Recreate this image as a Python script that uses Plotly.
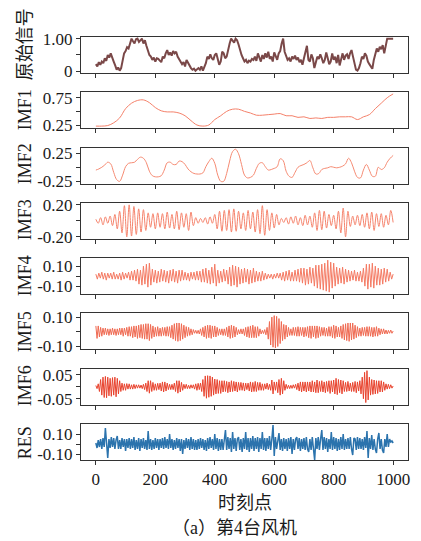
import plotly.graph_objects as go
from plotly.subplots import make_subplots

# ---------------- data ----------------
x_ticks = [0, 200, 400, 600, 800, 1000]
x_tick_labels = ["0", "200", "400", "600", "800", "1000"]

row_names = ["原始信号", "IMF1", "IMF2", "IMF3", "IMF4", "IMF5", "IMF6", "RES"]

# sampling step (time points) for each stored series
steps = [5, 20, 10, 8, 5, 4, 4, 4]

orig = [
    0.22, 0.15, 0.28, 0.20, 0.30, 0.25, 0.40, 0.32, 0.50, 0.42,
    0.55, 0.45, 0.30, 0.18, 0.05, 0.12, 0.02, 0.10, 0.40, 0.55,
    0.62, 0.74, 0.70, 0.88, 1.00, 0.92, 0.85, 0.98, 1.00, 0.90,
    0.97, 1.00, 0.85, 0.95, 0.78, 0.62, 0.50, 0.45, 0.35, 0.42,
    0.30, 0.40, 0.38, 0.33, 0.28, 0.45, 0.40, 0.55, 0.65, 0.50,
    0.58, 0.48, 0.62, 0.55, 0.60, 0.45, 0.38, 0.30, 0.22, 0.28,
    0.15, 0.35, 0.25, 0.20, 0.10, 0.05, 0.08, 0.02, 0.06, 0.10,
    0.05, 0.15, 0.02, 0.12, 0.25, 0.45, 0.38, 0.52, 0.40, 0.35,
    0.50, 0.55, 0.40, 0.20, 0.30, 0.60, 0.55, 0.40, 0.45, 0.70,
    0.85, 1.00, 0.92, 0.88, 1.00, 0.95, 0.82, 0.65, 0.50, 0.40,
    0.30, 0.35, 0.25, 0.33, 0.30, 0.38, 0.35, 0.45, 0.32, 0.55,
    0.40, 0.30, 0.50, 0.38, 0.55, 0.42, 0.60, 0.38, 0.45, 0.30,
    0.58, 0.45, 0.35, 0.55, 0.62, 0.85, 1.00, 0.60, 0.45, 0.35,
    0.40, 0.30, 0.45, 0.38, 0.48, 0.35, 0.42, 0.28, 0.35, 0.20,
    0.40, 0.65, 0.78, 0.35, 0.30, 0.52, 0.40, 0.10, 0.25, 0.45,
    0.38, 0.52, 0.40, 0.25, 0.35, 0.58, 0.40, 0.22, 0.30, 0.55,
    0.35, 0.45, 0.25, 0.50, 0.18, 0.40, 0.55, 0.35, 0.48, 0.52,
    0.38, 0.55, 0.65, 0.45, 0.20, 0.05, 0.02, 0.10, 0.25, 0.45,
    0.38, 0.55, 0.48, 0.30, 0.22, 0.15, 0.08, 0.35, 0.55, 0.70,
    0.60, 0.75, 0.68, 0.80, 0.55, 0.85, 1.00, 1.00, 1.00, 1.00,
    1.00,
]

imf1 = [
    0.23, 0.23, 0.24, 0.29, 0.38, 0.55, 0.65, 0.70, 0.71, 0.66,
    0.57, 0.51, 0.49, 0.49, 0.47, 0.42, 0.33, 0.25, 0.23, 0.25,
    0.35, 0.42, 0.50, 0.54, 0.54, 0.50, 0.47, 0.43, 0.43, 0.44,
    0.45, 0.46, 0.42, 0.42, 0.39, 0.40, 0.37, 0.38, 0.37, 0.39,
    0.39, 0.40, 0.40, 0.40, 0.35, 0.40, 0.44, 0.55, 0.65, 0.75,
    0.82,
]

imf2 = [
    -0.05, -0.03, 0.00, 0.04, 0.09, 0.06, -0.09, -0.22, -0.25, -0.14,
    0.01, 0.07, 0.08, 0.09, 0.14, 0.18, 0.16, 0.08, -0.07, -0.15,
    -0.17, -0.17, -0.15, -0.05, 0.08, 0.09, 0.05, 0.05, 0.11, 0.10,
    0.05, -0.03, -0.08, -0.11, -0.12, -0.12, -0.10, 0.01, 0.10, 0.16,
    0.07, -0.14, -0.25, -0.25, -0.11, 0.11, 0.28, 0.32, 0.24, 0.05,
    -0.14, -0.19, -0.18, -0.14, -0.02, 0.07, 0.08, 0.01, -0.05, -0.04,
    -0.02, 0.01, 0.15, 0.12, -0.07, -0.16, -0.18, -0.09, 0.00, 0.03,
    0.05, 0.08, 0.12, -0.01, -0.12, -0.11, -0.04, -0.02, -0.01, 0.01,
    0.00, -0.01, 0.00, 0.02, 0.06, 0.16, 0.08, -0.07, -0.18, -0.19,
    -0.05, 0.05, -0.05, -0.16, -0.16, 0.00, -0.04, -0.01, 0.09, 0.16,
    0.21,
]

imf3 = [
    0.02, -0.03, 0.04, -0.05, 0.05, -0.03, 0.06, -0.06, 0.08, -0.10,
    0.12, -0.15, 0.19, -0.20, 0.20, -0.19, 0.18, -0.17, 0.15, -0.14,
    0.14, -0.12, 0.10, -0.08, 0.09, -0.10, 0.10, -0.08, 0.09, -0.10,
    0.11, -0.09, 0.08, -0.10, 0.12, -0.11, 0.10, -0.08, 0.09, -0.12,
    0.11, -0.06, 0.04, -0.03, 0.03, -0.02, 0.04, -0.04, 0.05, -0.03,
    0.08, -0.10, 0.12, -0.13, 0.13, -0.12, 0.14, -0.14, 0.15, -0.13,
    0.12, -0.10, 0.10, -0.12, 0.13, -0.10, 0.11, -0.14, 0.14, -0.16,
    0.19, -0.18, 0.14, -0.12, 0.10, -0.09, 0.08, -0.05, 0.03, -0.02,
    0.04, -0.04, 0.05, -0.03, 0.06, -0.05, 0.04, -0.06, 0.07, -0.05,
    0.06, -0.08, 0.10, -0.12, 0.13, -0.11, 0.12, -0.09, 0.08, -0.06,
    0.07, -0.10, 0.12, -0.15, 0.16, -0.20, 0.12, -0.07, 0.06, -0.05,
    0.07, -0.06, 0.08, -0.08, 0.10, -0.10, 0.11, -0.12, 0.09, -0.07,
    0.09, -0.08, 0.07, -0.05, 0.13, -0.02,
]

imf4 = [
    0.02, -0.03, 0.03, -0.02, 0.04, -0.03, 0.03, -0.04, 0.03, -0.02,
    0.03, -0.03, 0.04, -0.03, 0.02, -0.03, 0.03, -0.04, 0.04, -0.03,
    0.03, -0.02, 0.04, -0.04, 0.05, -0.04,
    0.06, -0.05, 0.07, -0.08, 0.06, -0.09, 0.10, -0.08, 0.12, -0.11, 0.13, -0.09,
    0.07, -0.06, 0.06, -0.07, 0.05, -0.06, 0.07, -0.05, 0.06, -0.06, 0.05, -0.07, 0.06,
    -0.05, 0.07, -0.06, 0.05, -0.07, 0.06, -0.05, 0.06, -0.04,
    0.04, -0.04, 0.03, -0.05, 0.04, -0.03, 0.04, -0.04, 0.05, -0.04, 0.05,
    -0.06, 0.07, -0.06, 0.08, -0.07, 0.06, -0.08, 0.09, -0.07, 0.12, -0.10,
    0.06, -0.07, 0.05, -0.06, 0.07, -0.05, 0.06, -0.08, 0.09,
    -0.10, 0.11, -0.09, 0.10, -0.11, 0.09, -0.08,
    0.07, -0.07, 0.08, -0.06, 0.07, -0.08, 0.06, -0.07, 0.08, -0.06, 0.05,
    -0.05, 0.04, -0.05, 0.05, -0.04, 0.03, -0.03,
    0.02, -0.02, 0.02, -0.03, 0.02, -0.02, 0.03, -0.02, 0.03, -0.04, 0.04,
    -0.05, 0.05, -0.04, 0.06, -0.05, 0.04, -0.05, 0.06, -0.05, 0.07, -0.06,
    0.08, -0.07, 0.08, -0.09, 0.07, -0.08, 0.09, -0.07, 0.08, -0.10, 0.11,
    -0.12, 0.11, -0.13, 0.12, -0.14, 0.13, -0.15, 0.16, -0.16, 0.14, -0.12, 0.13, -0.10,
    0.09, -0.08, 0.08, -0.07, 0.09, -0.08, 0.07, -0.06, 0.06,
    -0.05, 0.05, -0.04, 0.06, -0.05, 0.04, -0.05, 0.05, -0.06, 0.08, -0.10,
    0.12, -0.13, 0.12, -0.11, 0.13, -0.12, 0.10,
    -0.09, 0.08, -0.09, 0.07, -0.08, 0.08, -0.06, 0.07, -0.05,
    0.04, -0.03, 0.02,
]

imf5 = [
    0.04, -0.045, 0.04, -0.035, 0.03, -0.03, 0.025, -0.02, 0.025, -0.02,
    0.02, -0.025, 0.02, -0.02, 0.025, -0.02, 0.02, -0.025, 0.02, -0.02,
    0.025, -0.02, 0.025, -0.03, 0.025, -0.02, 0.03, -0.03, 0.035, -0.03,
    0.035, -0.04, 0.04, -0.035, 0.04, -0.045, 0.045, -0.04, 0.05, -0.045,
    0.05, -0.05, 0.055, -0.05, 0.055, -0.06, 0.05, -0.045, 0.04, -0.035,
    0.03, -0.03, 0.035, -0.03, 0.025, -0.03, 0.03, -0.025, 0.03, -0.03,
    0.035, -0.03, 0.035, -0.04, 0.045, -0.05, 0.055, -0.06, 0.06, -0.065,
    0.06, -0.06, 0.055, -0.05, 0.045, -0.04, 0.035, -0.03, 0.03, -0.025,
    0.02, -0.02, 0.015, -0.01, 0.01, -0.012, 0.01, -0.015, 0.02, -0.025,
    0.03, -0.035, 0.04, -0.045, 0.045, -0.04, 0.045, -0.045, 0.04, -0.035,
    0.04, -0.035, 0.03, -0.025, 0.02, -0.02, 0.02, -0.025, 0.02, -0.025,
    0.03, -0.035, 0.04, -0.045, 0.045, -0.04, 0.04, -0.035, 0.03, -0.02,
    0.015, -0.015, 0.02, -0.015, 0.02, -0.025, 0.03, -0.035, 0.035, -0.04,
    0.04, -0.04, 0.045, -0.04, 0.035, -0.04, 0.035, -0.03, 0.02, -0.015,
    0.01, -0.012, 0.015, -0.02, 0.03, -0.05, 0.07, -0.09, 0.10, -0.105,
    0.11, -0.11, 0.105, -0.10, 0.09, -0.08, 0.07, -0.06, 0.05, -0.05,
    0.045, -0.035, 0.03, -0.025, 0.02, -0.025, 0.03, -0.025, 0.03, -0.03,
    0.035, -0.03, 0.03, -0.025, 0.03, -0.035, 0.03, -0.03, 0.035, -0.04,
    0.04, -0.045, 0.04, -0.035, 0.04, -0.045, 0.04, -0.04, 0.035, -0.03,
    0.03, -0.025, 0.03, -0.03, 0.025, -0.03, 0.035, -0.03, 0.035, -0.04,
    0.045, -0.045, 0.04, -0.035, 0.03, -0.035, 0.04, -0.045, 0.05, -0.055,
    0.055, -0.06, 0.06, -0.065, 0.06, -0.055, 0.06, -0.05, 0.045, -0.04,
    0.035, -0.03, 0.025, -0.03, 0.03, -0.025, 0.03, -0.03, 0.035, -0.03,
    0.035, -0.03, 0.03, -0.035, 0.03, -0.03, 0.035, -0.03, 0.025, -0.02,
    0.02, -0.015, 0.02, -0.015, 0.012, -0.015, 0.01, -0.01, 0.012, -0.01,
    0.005,
]

imf6 = [
    0.005, -0.008, 0.012, -0.02, 0.03, -0.035, 0.04, -0.045, 0.043, -0.046,
    0.04, -0.038, 0.035, -0.04, 0.038, -0.035, 0.04, -0.042, 0.035, -0.03,
    0.025, -0.02, 0.015, -0.015, 0.012, -0.015, 0.013, -0.01, 0.012, -0.01,
    0.008, -0.01, 0.01, -0.008, 0.008, -0.006, 0.008, -0.006, 0.007, -0.008,
    0.01, -0.012, 0.015, -0.02, 0.025, -0.027, 0.025, -0.02, 0.018, -0.015,
    0.012, -0.015, 0.014, -0.012, 0.015, -0.018, 0.02, -0.022, 0.02, -0.018,
    0.015, -0.012, 0.01, -0.012, 0.01, -0.012, 0.015, -0.02, 0.025, -0.027,
    0.025, -0.022, 0.018, -0.015, 0.01, -0.008, 0.01, -0.008, 0.006, -0.008,
    0.008, -0.006, 0.008, -0.01, 0.012, -0.015, 0.014, -0.012, 0.015, -0.02,
    0.03, -0.04, 0.045, -0.048, 0.046, -0.044, 0.045, -0.04, 0.04, -0.035,
    0.032, -0.03, 0.03, -0.028, 0.025, -0.028, 0.025, -0.022, 0.025, -0.02,
    0.022, -0.025, 0.02, -0.022, 0.025, -0.02, 0.022, -0.018, 0.02, -0.022,
    0.018, -0.015, 0.018, -0.015, 0.016, -0.018, 0.015, -0.012, 0.015, -0.018,
    0.02, -0.022, 0.018, -0.02, 0.022, -0.02, 0.018, -0.015, 0.018, -0.015,
    0.012, -0.015, 0.012, -0.01, 0.015, -0.012, 0.01, -0.015, 0.028, -0.03,
    0.02, -0.015, 0.02, -0.025, 0.03, -0.035, 0.035, -0.03, 0.025, -0.015,
    0.01, -0.008, 0.006, -0.008, 0.006, -0.007, 0.008, -0.006, 0.01, -0.012,
    0.015, -0.018, 0.02, -0.022, 0.02, -0.018, 0.02, -0.022, 0.02, -0.018,
    0.02, -0.022, 0.025, -0.022, 0.02, -0.025, 0.028, -0.025, 0.022, -0.02,
    0.025, -0.022, 0.02, -0.025, 0.022, -0.02, 0.025, -0.028, 0.025, -0.022,
    0.028, -0.03, 0.035, -0.033, 0.03, -0.025, 0.028, -0.03, 0.025, -0.02,
    0.018, -0.02, 0.022, -0.018, 0.015, -0.02, 0.018, -0.02, 0.022, -0.025,
    0.02, -0.018, 0.025, -0.03, 0.04, -0.05, 0.06, -0.066, 0.067, -0.055,
    0.04, -0.035, 0.03, -0.032, 0.028, -0.03, 0.025, -0.028, 0.025, -0.022,
    0.025, -0.022, 0.02, -0.015, 0.012, -0.01, 0.01, -0.008, 0.008, -0.006,
    0.003,
]

res = [
    0.01, -0.04, 0.04, -0.03, 0.05, -0.05, 0.06, -0.03, 0.16, -0.05,
    -0.14, 0.05, -0.04, 0.07, -0.03, 0.06, -0.05, 0.04, 0.08, -0.05,
    0.04, -0.05, 0.06, -0.03, 0.05, -0.07, 0.05, -0.04, 0.06, -0.05,
    0.05, -0.04, 0.07, -0.06, 0.04, -0.05, 0.06, -0.07, 0.05, -0.04,
    0.06, -0.05, 0.04, -0.06, 0.13, -0.05, 0.05, -0.06, 0.04, -0.05,
    0.06, -0.04, 0.05, -0.06, 0.05, -0.04, 0.06, -0.05, 0.07, -0.04,
    0.05, -0.05, 0.10, -0.04, 0.05, -0.06, 0.04, -0.05, 0.06, -0.04,
    0.05, -0.07, 0.05, -0.10, 0.04, -0.05, 0.06, -0.04, 0.05, -0.06,
    0.07, -0.05, 0.05, -0.06, 0.04, -0.06, 0.05, -0.05, 0.06, -0.04,
    0.05, -0.06, 0.04, -0.07, 0.06, -0.05, 0.07, -0.04, 0.05, -0.06,
    0.10, -0.05, 0.06, -0.07, 0.05, -0.06, 0.05, -0.06, 0.08, 0.14,
    -0.06, 0.07, -0.05, 0.06, -0.08, 0.12, -0.05, 0.06, -0.07, 0.05,
    0.07, -0.06, 0.05, -0.08, 0.06, -0.05, 0.12, -0.06, 0.06, -0.08,
    0.06, -0.05, 0.08, -0.07, 0.06, -0.05, 0.07, -0.08, 0.06, -0.05,
    0.12, -0.06, 0.06, -0.07, 0.06, -0.05, 0.08, -0.06, 0.05, 0.19,
    -0.12, 0.07, -0.05, 0.06, 0.11, -0.06, 0.05, -0.07, 0.06, -0.05,
    0.05, -0.07, 0.06, -0.05, 0.07, -0.10, 0.05, -0.06, 0.05, 0.07,
    -0.05, 0.06, -0.07, 0.05, -0.05, 0.06, -0.06, 0.07, -0.05, -0.08,
    0.05, -0.06, 0.07, -0.05, -0.16, 0.06, -0.05, 0.07, -0.06, 0.05,
    0.14, -0.06, 0.07, -0.05, 0.06, -0.08, 0.05, -0.05, 0.12, -0.06,
    0.07, -0.05, 0.06, -0.07, 0.05, -0.06, 0.07, -0.05, 0.10, -0.06,
    0.05, -0.05, 0.06, -0.05, 0.07, -0.05, -0.11, 0.06, 0.05, -0.06,
    0.07, -0.05, 0.06, -0.05, 0.05, -0.06, 0.07, -0.04, 0.13, -0.14,
    0.06, -0.05, 0.09, -0.06, 0.05, -0.05, -0.09, 0.05, 0.11, -0.05,
    0.05, -0.06, -0.09, 0.05, -0.03, 0.10, -0.03, 0.05, 0.02, 0.03,
    0.01,
]

all_series = [orig, imf1, imf2, imf3, imf4, imf5, imf6, res]

y_ranges = [[-0.05, 1.05], [0.19, 0.85], [-0.29, 0.35], [-0.225, 0.225],
            [-0.18, 0.18], [-0.12, 0.125], [-0.075, 0.075], [-0.16, 0.20]]
y_tick_vals = [[0, 0.5, 1.0], [0.25, 0.5, 0.75], [-0.25, 0, 0.25], [-0.2, 0, 0.2],
               [-0.1, 0, 0.1], [-0.1, 0, 0.1], [-0.05, 0, 0.05], [-0.1, 0, 0.1]]
y_tick_text = [["0", "", "1.00"], ["0.25", "", "0.75"], ["-0.25", "", "0.25"],
               ["-0.20", "", "0.20"], ["-0.10", "", "0.10"], ["-0.10", "", "0.10"],
               ["-0.05", "", "0.05"], ["-0.10", "", "0.10"]]

# ---------------- styling ----------------
colors = ["#7a4848", "#f4806a", "#f58a72", "#f5836c", "#f47a63", "#ef6a52", "#e8432e", "#2b73ad"]
widths = [2.0, 1.0, 1.0, 1.0, 1.0, 1.0, 1.0, 1.5]
shapes = ["linear", "spline", "spline", "spline", "linear", "linear", "linear", "linear"]

W, H = 421, 541
M_L, M_R, M_T, M_B = 81, 11, 37, 81
plot_h = H - M_T - M_B
serif = "Liberation Serif, Times New Roman, serif"
cjk = "Liberation Serif, Noto Sans CJK SC, serif"
axis_col = "#333333"
text_col = "#1a1a1a"

fig = make_subplots(rows=8, cols=1, shared_xaxes=True, vertical_spacing=19.3 / plot_h)

for i, vals in enumerate(all_series):
    xs = [k * steps[i] for k in range(len(vals))]
    fig.add_trace(go.Scatter(x=xs, y=vals, mode="lines",
                             line=dict(color=colors[i], width=widths[i], shape=shapes[i]),
                             showlegend=False, hoverinfo="skip"),
                  row=i + 1, col=1)
    fig.update_yaxes(range=y_ranges[i], tickvals=y_tick_vals[i], ticktext=y_tick_text[i],
                     ticks="outside", ticklen=4, tickwidth=1, tickcolor=axis_col,
                     showline=True, mirror=True, linecolor=axis_col, linewidth=1,
                     showgrid=False, zeroline=False,
                     tickfont=dict(family=serif, size=17, color=text_col),
                     row=i + 1, col=1)
    fig.update_xaxes(range=[-50, 1050], tickvals=x_ticks, ticktext=x_tick_labels,
                     ticks="outside", ticklen=4, tickwidth=1, tickcolor=axis_col,
                     showline=True, mirror=True, linecolor=axis_col, linewidth=1,
                     showgrid=False, zeroline=False,
                     showticklabels=(i == 7),
                     tickfont=dict(family=serif, size=17, color=text_col),
                     row=i + 1, col=1)

# y-axis labels as rotated annotations
label_centers_px = [44, 110, 164, 220, 276, 332, 386, 443]
annos = []
for name, cy in zip(row_names, label_centers_px):
    annos.append(dict(text=name, x=(25 - M_L) / (W - M_L - M_R), y=1 - (cy - M_T) / plot_h,
                      xref="paper", yref="paper", xanchor="center", yanchor="middle",
                      textangle=-90, showarrow=False,
                      font=dict(family=cjk, size=18, color=text_col)))
annos.append(dict(text="时刻点", x=(246 - M_L) / (W - M_L - M_R), y=1 - (503 - M_T) / plot_h,
                  xref="paper", yref="paper", xanchor="center", yanchor="middle",
                  showarrow=False, font=dict(family=cjk, size=18, color=text_col)))
annos.append(dict(text="（a）第4台风机", x=(235 - M_L) / (W - M_L - M_R), y=1 - (528 - M_T) / plot_h,
                  xref="paper", yref="paper", xanchor="center", yanchor="middle",
                  showarrow=False, font=dict(family=cjk, size=18, color=text_col)))

fig.update_layout(width=W, height=H, margin=dict(l=M_L, r=M_R, t=M_T, b=M_B),
                  plot_bgcolor="white", paper_bgcolor="white", annotations=annos)

fig.write_html("out.html", config={"displayModeBar": False},
               post_script="document.body.style.margin='0';")
